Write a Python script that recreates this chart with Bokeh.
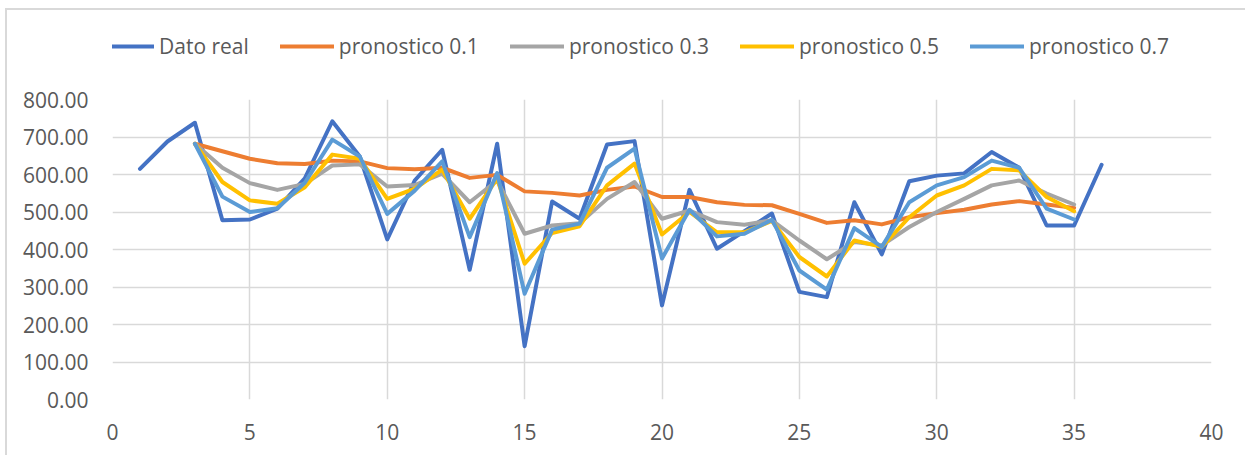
from bokeh.plotting import figure
from bokeh.layouts import column
from bokeh.models import Range1d, FixedTicker, Legend, LegendItem, NumeralTickFormatter
from bokeh.embed import file_html
from bokeh.resources import INLINE

x_real = list(range(1, 37))
dato_real = [615, 688, 738, 478, 480, 509, 590, 742, 648, 427, 584, 666,
             346, 682, 142, 528, 482, 680, 689, 251, 559, 402, 449, 496,
             287, 273, 526, 387, 582, 597, 603, 660, 618, 464, 464, 626]

x_pron = list(range(3, 36))
pron_01 = [682, 662, 642, 630, 628, 637, 635, 617, 614, 618, 591, 599, 555,
           551, 544, 559, 568, 540, 540, 526, 519, 518, 495, 471, 478, 467,
           486, 497, 506, 520, 529, 520, 511]
pron_03 = [682, 618, 577, 559, 575, 624, 627, 568, 572, 602, 526, 584, 442,
           464, 470, 535, 580, 482, 504, 473, 466, 478, 424, 374, 420, 411,
           460, 500, 535, 571, 584, 549, 520]
pron_05 = [682, 580, 531, 522, 566, 653, 642, 535, 562, 613, 482, 589, 362,
           444, 462, 571, 629, 440, 500, 446, 446, 476, 380, 328, 424, 407,
           486, 544, 571, 615, 611, 540, 502]
pron_07 = [682, 541, 500, 510, 578, 693, 648, 495, 557, 635, 433, 604, 282,
           453, 469, 618, 669, 376, 506, 435, 442, 479, 344, 293, 457, 407,
           526, 571, 593, 637, 618, 509, 480]

names = ["Dato real", "pronostico 0.1", "pronostico 0.3", "pronostico 0.5", "pronostico 0.7"]
colors = ["#4472C4", "#ED7D31", "#A5A5A5", "#FFC000", "#5B9BD5"]

x_ticks = [0, 5, 10, 15, 20, 25, 30, 35, 40]
y_ticks = [0, 100, 200, 300, 400, 500, 600, 700, 800]

FONT = "Open Sans"
TXT = "#595959"
GRID = "#d9d9d9"

# main chart
p = figure(width=1238, height=385, output_backend="svg", toolbar_location=None,
           x_range=Range1d(0, 40), y_range=Range1d(0, 800),
           min_border_left=105, min_border_right=34, min_border_top=29, min_border_bottom=56)
p.outline_line_color = None
p.background_fill_color = "white"
p.border_fill_color = "white"

for ax in (p.xaxis[0], p.yaxis[0]):
    ax.axis_line_color = None
    ax.major_tick_line_color = None
    ax.minor_tick_line_color = None
    ax.major_label_text_font = FONT
    ax.major_label_text_font_size = "21px"
    ax.major_label_text_color = TXT

p.xaxis.ticker = FixedTicker(ticks=x_ticks)
p.yaxis.ticker = FixedTicker(ticks=y_ticks)
p.yaxis.formatter = NumeralTickFormatter(format="0.00")
p.xaxis.major_label_standoff = 18
p.yaxis.major_label_standoff = 18

p.xgrid.ticker = FixedTicker(ticks=x_ticks)
p.ygrid.ticker = FixedTicker(ticks=y_ticks)
p.xgrid.grid_line_color = GRID
p.ygrid.grid_line_color = GRID
p.xgrid.grid_line_width = 1.5
p.ygrid.grid_line_width = 1.5

series = [(x_real, dato_real), (x_pron, pron_01), (x_pron, pron_03), (x_pron, pron_05), (x_pron, pron_07)]
for (xs, ys), c in zip(series, colors):
    p.line(xs, ys, line_color=c, line_width=4, line_join="round", line_cap="round")

# legend strip above the chart (proxy lines kept outside the visible range)
lg = figure(width=1238, height=60, output_backend="svg", toolbar_location=None,
            x_range=Range1d(0, 1), y_range=Range1d(0, 1),
            x_axis_type=None, y_axis_type=None,
            min_border_left=0, min_border_right=0, min_border_top=0, min_border_bottom=0)
lg.outline_line_color = None
lg.grid.visible = False
lg.background_fill_color = "white"
lg.border_fill_color = "white"
items = []
for name, c in zip(names, colors):
    r = lg.line([-5, -4], [-5, -4], line_color=c, line_width=4, line_cap="round")
    items.append(LegendItem(label=name, renderers=[r]))
legend = Legend(items=items, orientation="horizontal", location=(-12, 10),
                label_text_font=FONT, label_text_font_size="21px", label_text_color=TXT,
                glyph_width=54, glyph_height=20, label_height=20, label_standoff=5,
                spacing=31, padding=0, margin=0, border_line_color=None,
                background_fill_alpha=0)
lg.add_layout(legend, "center")

layout = column(lg, p, spacing=0, margin=(8, 0, 0, 5),
                styles={"border-left": "2px solid #d9d9d9", "border-top": "2px solid #d9d9d9"})

open("out.html", "w").write(file_html(layout, INLINE))
